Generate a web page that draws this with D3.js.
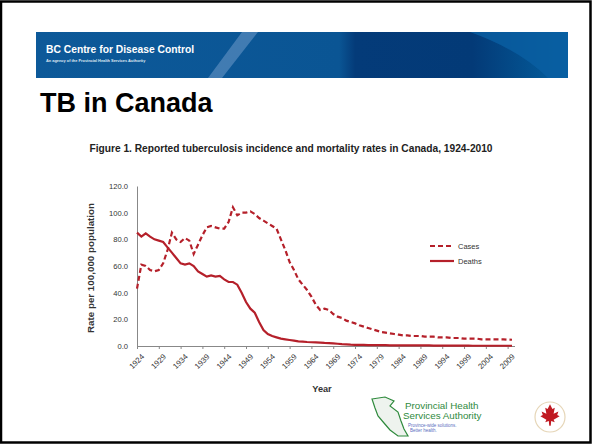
<!DOCTYPE html>
<html>
<head>
<meta charset="utf-8">
<script src="https://cdn.jsdelivr.net/npm/d3@7"></script>
<style>
  body { margin: 0; background: #fff; }
  svg { display: block; font-family: "Liberation Sans", Arial, sans-serif; }
</style>
</head>
<body>
<script>
// years 1924-2010
var years = d3.range(1924, 2011);

// rates per 100,000
var cases = [43, 61, 60, 57, 56, 57, 62, 72, 85, 80,
             78, 81, 79, 69, 76, 83, 89, 90, 89, 88,
             88, 93, 104, 98, 100, 100, 101, 99, 96, 94,
             92, 90, 88, 80, 72, 63, 57, 50, 46, 42,
             37, 31, 27, 28, 27, 24, 22, 21, 19, 18,
             17, 15.5, 14.5, 13.5, 12.5, 11.5, 10.5, 10, 9.5, 9,
             8.5, 8, 8, 7.5, 7.5, 7.5, 7, 7, 7, 6.5,
             6.5, 6.5, 6, 6, 6, 5.5, 5.5, 5.5, 5.5, 5,
             5, 5, 5, 5, 5, 4.8, 4.7];
var deaths = [85, 82, 84.5, 82, 80, 79, 78, 74, 70, 66,
              62, 61, 62, 60, 56, 54, 52, 53, 52, 52.5,
              50, 48, 48, 46, 40, 33, 28, 25, 18, 12,
              9, 7.5, 6.5, 5.5, 5, 4.5, 4, 3.5, 3.3, 3,
              2.8, 2.7, 2.5, 2.3, 2.2, 2, 1.7, 1.4, 1.2, 1,
              0.9, 0.8, 0.8, 0.7, 0.7, 0.6, 0.6, 0.6, 0.5, 0.5,
              0.5, 0.5, 0.4, 0.4, 0.4, 0.4, 0.4, 0.4, 0.3, 0.3,
              0.3, 0.3, 0.3, 0.3, 0.3, 0.3, 0.3, 0.2, 0.2, 0.2,
              0.2, 0.2, 0.2, 0.2, 0.2, 0.2, 0.2];
var yTicks = [0, 20, 40, 60, 80, 100, 120];
var xTickYears = d3.range(1924, 2010, 5);
var seriesNames = ["Cases", "Deaths"];

var width = 592, height = 444;
var red = "#b5202a";

var svg = d3.select("body").append("svg")
    .attr("width", width)
    .attr("height", height);

// slide frame
svg.append("rect")
    .attr("x", 1).attr("y", 1.5)
    .attr("width", width - 2.5).attr("height", height - 3)
    .attr("fill", "#fff")
    .attr("stroke", "#000")
    .attr("stroke-width", 2.5);

// banner
var defs = svg.append("defs");
var grad = defs.append("linearGradient").attr("id", "ban");
grad.append("stop").attr("offset", "0%").attr("stop-color", "#0d5999");
grad.append("stop").attr("offset", "57%").attr("stop-color", "#0a5594");
grad.append("stop").attr("offset", "60%").attr("stop-color", "#043b79");
grad.append("stop").attr("offset", "82%").attr("stop-color", "#033a77");
grad.append("stop").attr("offset", "100%").attr("stop-color", "#04609f");

svg.append("rect")
    .attr("x", 36).attr("y", 32)
    .attr("width", 532).attr("height", 46)
    .attr("fill", "url(#ban)");
// light swoosh
svg.append("path")
    .attr("d", "M242,32 L258,32 L222,78 L208,78 Z")
    .attr("fill", "#6f9bcb").attr("opacity", 0.55);
svg.append("path")
    .attr("d", "M470,32 L568,32 L568,78 L548,78 Q520,50 470,32 Z")
    .attr("fill", "#0a5fa2").attr("opacity", 0.8);

svg.append("text")
    .attr("x", 46).attr("y", 53)
    .attr("fill", "#fff")
    .attr("font-size", 10.3).attr("font-weight", "bold")
    .text("BC Centre for Disease Control");
svg.append("text")
    .attr("x", 46).attr("y", 62)
    .attr("fill", "#dfe8f3")
    .attr("font-size", 3.9).attr("font-weight", "bold")
    .text("An agency of the Provincial Health Services Authority");

// slide title
svg.append("text")
    .attr("x", 40).attr("y", 112)
    .attr("font-size", 27).attr("font-weight", "bold")
    .attr("fill", "#000")
    .text("TB in Canada");

// figure title
svg.append("text")
    .attr("x", 291).attr("y", 152)
    .attr("text-anchor", "middle")
    .attr("font-size", 10.2).attr("font-weight", "bold")
    .attr("fill", "#222")
    .text("Figure 1. Reported tuberculosis incidence and mortality rates in Canada, 1924-2010");

// scales
var x = d3.scaleLinear().domain([1924, 2010]).range([137, 512]);
var y = d3.scaleLinear().domain([0, 120]).range([346, 186]);

// y axis
var yAxis = svg.append("g")
    .attr("transform", "translate(137,0)")
    .call(d3.axisLeft(y).tickValues(yTicks).tickFormat(d3.format(".1f")).tickSize(0).tickPadding(9));
yAxis.select(".domain").attr("stroke", "#888");
yAxis.selectAll("text").attr("font-size", 7.6).attr("fill", "#333");

// x axis
var xAxis = svg.append("g")
    .attr("transform", "translate(0,346)")
    .call(d3.axisBottom(x).tickValues(xTickYears).tickFormat(d3.format("d")).tickSize(3).tickSizeOuter(0));
xAxis.select(".domain").attr("stroke", "#888").attr("d", "M137,0.5H515");
xAxis.selectAll("line").attr("stroke", "#888");
xAxis.selectAll("text")
    .attr("font-size", 7.8).attr("fill", "#333")
    .attr("text-anchor", "end")
    .attr("dy", 0)
    .attr("transform", "translate(3,7) rotate(-45)");

// axis titles
svg.append("text")
    .attr("transform", "translate(94,268) rotate(-90)")
    .attr("text-anchor", "middle")
    .attr("font-size", 9.8).attr("font-weight", "bold")
    .attr("fill", "#333")
    .text("Rate per 100,000 population");
svg.append("text")
    .attr("x", 322).attr("y", 392)
    .attr("text-anchor", "middle")
    .attr("font-size", 9.2).attr("font-weight", "bold")
    .attr("fill", "#333")
    .text("Year");

// lines
var line = function (vals) {
    return d3.line()
        .x(function (d, i) { return x(years[i]); })
        .y(function (d) { return y(d); })(vals);
};
svg.append("path")
    .attr("d", line(cases))
    .attr("fill", "none")
    .attr("stroke", red)
    .attr("stroke-width", 2.2)
    .attr("stroke-dasharray", "5,3");
svg.append("path")
    .attr("d", line(deaths))
    .attr("fill", "none")
    .attr("stroke", red)
    .attr("stroke-width", 2.2);

// legend
var legend = svg.append("g").attr("transform", "translate(430,246)");
seriesNames.forEach(function (name, i) {
    legend.append("line")
        .attr("x1", 0).attr("x2", 24)
        .attr("y1", i * 15).attr("y2", i * 15)
        .attr("stroke", red)
        .attr("stroke-width", 2.2)
        .attr("stroke-dasharray", i === 0 ? "5,3" : null);
    legend.append("text")
        .attr("x", 28).attr("y", i * 15 + 2.7)
        .attr("font-size", 7.5)
        .attr("fill", "#333")
        .text(name);
});

// PHSA logo
var logo = svg.append("g");
logo.append("path")
    .attr("d", "M372,399 L385,397 L394,401 L390,406 L398,412 L401,421 L404,429 L408,436 L398,436 L390,430 L384,423 L378,416 L375,408 Z")
    .attr("fill", "#eef3ee")
    .attr("stroke", "#2e8a3c")
    .attr("stroke-width", 1.2);
logo.append("text").attr("x", 405).attr("y", 409)
    .attr("font-size", 9.8).attr("fill", "#2f8a3e")
    .text("Provincial Health");
logo.append("text").attr("x", 403).attr("y", 419)
    .attr("font-size", 9.8).attr("fill", "#2f8a3e")
    .text("Services Authority");
logo.append("text").attr("x", 408).attr("y", 426.5)
    .attr("font-size", 4.5).attr("fill", "#5a6fc0")
    .text("Province-wide solutions.");
logo.append("text").attr("x", 410).attr("y", 432)
    .attr("font-size", 4.5).attr("fill", "#5a6fc0")
    .text("Better health.");

// maple seal
var seal = svg.append("g").attr("transform", "translate(550,417)");
seal.append("circle").attr("r", 15)
    .attr("fill", "none").attr("stroke", "#e6d6b8").attr("stroke-width", 1.2);
seal.append("path")
    .attr("transform", "translate(0,-2) scale(1.2)")
    .attr("d", "M0,-9 L2,-5 L4,-6 L3,-1 L7,-3 L6,0 L8,1 L3,4 L4,6 L1,5 L0.6,9 L-0.6,9 L-1,5 L-4,6 L-3,4 L-8,1 L-6,0 L-7,-3 L-3,-1 L-4,-6 L-2,-5 Z")
    .attr("fill", "#c01a22");
</script>
</body>
</html>
